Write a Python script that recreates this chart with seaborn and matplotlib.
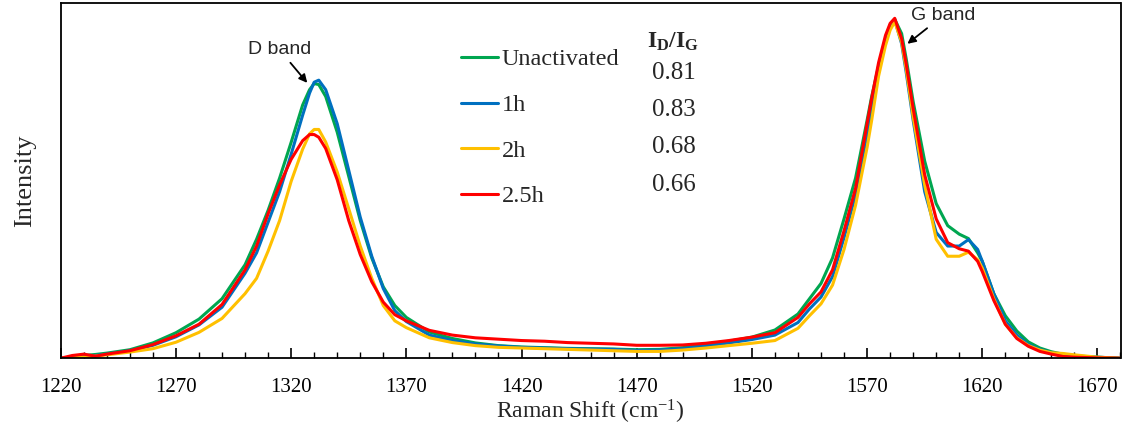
import numpy as np
import pandas as pd
import seaborn as sns
import matplotlib.pyplot as plt

# Raman shift grid (cm-1)
shift = [1220, 1225, 1230, 1235, 1240, 1250, 1260, 1270, 1280, 1290,
         1300, 1305, 1310, 1315, 1320, 1325, 1328, 1330, 1332, 1335,
         1340, 1345, 1350, 1355, 1360, 1365, 1370, 1380, 1390, 1400,
         1410, 1420, 1430, 1440, 1450, 1460, 1470, 1480, 1490, 1500,
         1510, 1520, 1530, 1540, 1545, 1550, 1555, 1560, 1565, 1570,
         1572, 1575, 1578, 1580, 1582, 1585, 1587, 1590, 1595, 1600,
         1605, 1610, 1614, 1618, 1620, 1625, 1630, 1635, 1640, 1645,
         1650, 1655, 1660, 1670, 1680]

unactivated = [0.0, 0.004, 0.008, 0.011, 0.015, 0.025, 0.045, 0.075, 0.115, 0.175,
               0.275, 0.35, 0.435, 0.53, 0.635, 0.745, 0.79, 0.808, 0.805, 0.77,
               0.665, 0.535, 0.405, 0.295, 0.21, 0.155, 0.12, 0.077, 0.058, 0.045,
               0.037, 0.033, 0.031, 0.029, 0.028, 0.027, 0.025, 0.026, 0.031, 0.04,
               0.05, 0.062, 0.083, 0.13, 0.175, 0.22, 0.295, 0.41, 0.53, 0.70,
               0.77, 0.86, 0.94, 0.98, 0.997, 0.955, 0.88, 0.755, 0.58, 0.455,
               0.39, 0.365, 0.352, 0.31, 0.285, 0.19, 0.125, 0.08, 0.048, 0.03,
               0.019, 0.012, 0.007, 0.003, 0.0]

act_1h = [0.0, 0.002, 0.005, 0.008, 0.012, 0.022, 0.038, 0.063, 0.098, 0.15,
          0.25, 0.31, 0.40, 0.49, 0.60, 0.715, 0.78, 0.812, 0.818, 0.79,
          0.69, 0.553, 0.415, 0.30, 0.205, 0.14, 0.108, 0.068, 0.052, 0.042,
          0.036, 0.032, 0.03, 0.028, 0.027, 0.026, 0.023, 0.024, 0.028, 0.036,
          0.045, 0.055, 0.068, 0.105, 0.145, 0.18, 0.24, 0.355, 0.48, 0.66,
          0.74, 0.85, 0.93, 0.975, 0.995, 0.925, 0.84, 0.70, 0.49, 0.37,
          0.33, 0.33, 0.349, 0.32, 0.285, 0.19, 0.11, 0.068, 0.04, 0.026,
          0.016, 0.01, 0.006, 0.003, 0.0]

act_2h = [0.0, 0.001, 0.003, 0.006, 0.01, 0.018, 0.028, 0.047, 0.076, 0.117,
          0.19, 0.235, 0.315, 0.405, 0.52, 0.615, 0.66, 0.673, 0.673, 0.636,
          0.548, 0.44, 0.33, 0.235, 0.155, 0.11, 0.09, 0.06, 0.046, 0.037,
          0.032, 0.03, 0.028, 0.026, 0.024, 0.022, 0.02, 0.02, 0.024, 0.03,
          0.037, 0.044, 0.052, 0.088, 0.125, 0.16, 0.215, 0.32, 0.45, 0.62,
          0.70, 0.83, 0.92, 0.965, 0.99, 0.93, 0.85, 0.71, 0.51, 0.35,
          0.30, 0.30, 0.312, 0.29, 0.265, 0.175, 0.10, 0.06, 0.037, 0.024,
          0.016, 0.014, 0.01, 0.003, 0.0]

act_25h = [0.0, 0.008, 0.012, 0.006, 0.012, 0.022, 0.04, 0.066, 0.10, 0.158,
           0.26, 0.33, 0.425, 0.51, 0.585, 0.64, 0.658, 0.658, 0.65, 0.617,
           0.525, 0.405, 0.305, 0.225, 0.165, 0.128, 0.11, 0.082, 0.068, 0.06,
           0.056, 0.052, 0.05, 0.046, 0.044, 0.042, 0.038, 0.038, 0.039, 0.044,
           0.052, 0.062, 0.075, 0.12, 0.16, 0.195, 0.26, 0.375, 0.50, 0.69,
           0.765, 0.87, 0.95, 0.985, 1.0, 0.94, 0.865, 0.735, 0.54, 0.41,
           0.34, 0.322, 0.315, 0.285, 0.255, 0.17, 0.10, 0.058, 0.035, 0.02,
           0.012, 0.005, 0.003, 0.001, 0.0]

samples = ["Unactivated", "1h", "2h", "2.5h"]
colors = ["#00A650", "#0070C0", "#FFC000", "#FF0000"]
ratios = ["0.81", "0.83", "0.68", "0.66"]
xtick_values = [1220, 1270, 1320, 1370, 1420, 1470, 1520, 1570, 1620, 1670]

df = pd.concat([
    pd.DataFrame({"shift": shift, "intensity": vals, "sample": name})
    for name, vals in zip(samples, [unactivated, act_1h, act_2h, act_25h])
])

sns.set_theme(style="white")
plt.rcParams['font.family'] = ['Liberation Serif', 'DejaVu Serif']
plt.rcParams['mathtext.fontset'] = 'custom'
plt.rcParams['mathtext.rm'] = 'Liberation Serif'
plt.rcParams['mathtext.it'] = 'Liberation Serif:italic'
plt.rcParams['mathtext.bf'] = 'Liberation Serif:bold'

fig, ax = plt.subplots(figsize=(11.25, 4.29), dpi=100)
fig.subplots_adjust(left=0.054, right=0.996, bottom=0.165, top=0.993)

sns.lineplot(data=df, x="shift", y="intensity", hue="sample", hue_order=samples,
             palette=colors, linewidth=2.2, ax=ax)

ax.set_xlim(1220, 1680)
ax.set_ylim(0, 1.045)
ax.set_xticks(xtick_values)
ax.set_xticks(range(1220, 1681, 10), minor=True)
ax.set_yticks([])
ax.tick_params(axis="x", which="major", direction="in", length=7, width=1.2,
               pad=14, labelsize=15, bottom=True, colors="black")
ax.tick_params(axis="x", which="minor", direction="in", length=4, width=1.0,
               bottom=True, colors="black")
for s in ax.spines.values():
    s.set_color("black")
    s.set_linewidth(1.3)

ax.set_xlabel("Raman Shift (cm$^{-1}$)", fontsize=17, labelpad=1)
ax.set_ylabel("Intensity", fontsize=19, labelpad=18)

handles, labels = ax.get_legend_handles_labels()
ax.legend(handles, labels, loc="upper left", bbox_to_anchor=(0.378, 0.872),
          frameon=False, fontsize=17.5, handlelength=1.5, handletextpad=0.15,
          labelspacing=0.97, borderpad=0, borderaxespad=0)

# I_D/I_G column
ax.text(1486, 0.93, r"$\mathbf{I_D/I_G}$", fontsize=17, ha="center", va="center")
for r, yy in zip(ratios, [0.839, 0.73, 0.621, 0.509]):
    ax.text(1486, yy, r, fontsize=18, ha="center", va="center")

# band annotations
ax.annotate("D band", xy=(1327, 0.81), xytext=(1315, 0.907),
            fontsize=14, family="Liberation Sans", ha="center", va="center",
            arrowprops=dict(arrowstyle="-|>", color="black", lw=1.3,
                            shrinkA=1, shrinkB=0, mutation_scale=12))
ax.annotate("G band", xy=(1587.5, 0.925), xytext=(1603, 1.008),
            fontsize=14, family="Liberation Sans", ha="center", va="center",
            arrowprops=dict(arrowstyle="-|>", color="black", lw=1.3,
                            shrinkA=1, shrinkB=0, mutation_scale=12))

fig.savefig("out.png", dpi=100)
